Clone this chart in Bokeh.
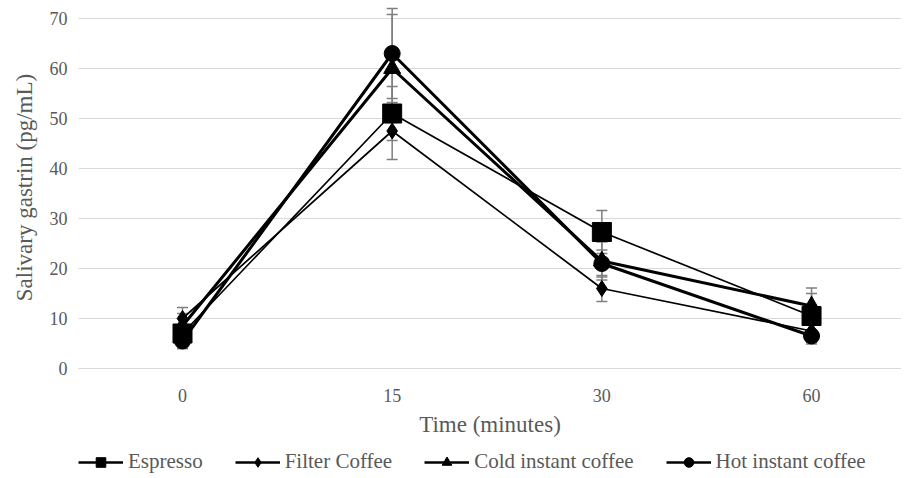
from bokeh.plotting import figure
from bokeh.layouts import column
from bokeh.models import ColumnDataSource, Range1d, Whisker, TeeHead, Legend, LegendItem, FixedTicker
from bokeh.embed import file_html
from bokeh.resources import INLINE

times = ["0", "15", "30", "60"]
espresso = [7.0, 51.0, 27.3, 10.5]
espresso_err = [3.0, 5.4, 4.3, 5.6]
filter_coffee = [10.0, 47.5, 16.0, 7.5]
filter_err = [2.2, 5.7, 2.6, 1.5]
cold_instant = [8.5, 60.0, 21.5, 12.5]
cold_err = [2.5, 10.8, 3.8, 2.5]
hot_instant = [5.5, 63.0, 21.0, 6.5]
hot_err = [1.5, 9.0, 2.7, 1.2]
names = ["Espresso", "Filter Coffee", "Cold instant coffee", "Hot instant coffee"]

FONT = "Liberation Serif"
xs = list(range(len(times)))

p = figure(width=901, height=440, output_backend="svg", toolbar_location=None,
           x_range=Range1d(-0.496, 3.429), y_range=Range1d(0, 72.4),
           min_border_left=78, min_border_right=0, min_border_top=6, min_border_bottom=72)
p.outline_line_color = None
p.background_fill_color = "white"
p.border_fill_color = "white"

styles = [("square", 19, 1.7), ("diamond", 16, 1.7), ("triangle", 17, 3.0), ("circle", 16, 3.0)]
vals_all = [espresso, filter_coffee, cold_instant, hot_instant]
errs_all = [espresso_err, filter_err, cold_err, hot_err]

for vals, errs, (marker, size, lw) in zip(vals_all, errs_all, styles):
    src = ColumnDataSource(dict(x=xs, y=vals,
                                lo=[v - e for v, e in zip(vals, errs)],
                                hi=[v + e for v, e in zip(vals, errs)]))
    w = Whisker(source=src, base="x", lower="lo", upper="hi",
                line_color="#7f7f7f", line_width=1.5,
                upper_head=TeeHead(size=11, line_color="#7f7f7f", line_width=1.5),
                lower_head=TeeHead(size=11, line_color="#7f7f7f", line_width=1.5))
    p.add_layout(w)
    p.line("x", "y", source=src, line_color="black", line_width=lw)
    p.scatter("x", "y", source=src, marker=marker, size=size,
              fill_color="black", line_color="black")

p.xgrid.grid_line_color = None
p.ygrid.grid_line_color = "#d9d9d9"
p.ygrid.grid_line_width = 1

p.xaxis.ticker = FixedTicker(ticks=xs)
p.xaxis.major_label_overrides = {i: t for i, t in zip(xs, times)}
p.yaxis.ticker = FixedTicker(ticks=list(range(0, 71, 10)))

for ax in (p.xaxis, p.yaxis):
    ax.major_tick_line_color = None
    ax.minor_tick_line_color = None
    ax.major_label_text_font = FONT
    ax.major_label_text_font_size = "18px"
    ax.major_label_text_color = "#595959"
    ax.axis_label_text_font = FONT
    ax.axis_label_text_font_style = "normal"
    ax.axis_label_text_color = "#595959"
    ax.axis_label_text_font_size = "23px"

p.xaxis.axis_line_color = "#d9d9d9"
p.yaxis.axis_line_color = None
p.xaxis.major_label_standoff = 14
p.yaxis.major_label_standoff = 5
p.xaxis.axis_label = "Time (minutes)"
p.yaxis.axis_label = "Salivary gastrin (pg/mL)"
p.xaxis.axis_label_standoff = 7
p.yaxis.axis_label_standoff = 10

# legend strip below the chart (its sample glyphs sit outside the visible range)
lg = figure(width=901, height=34, output_backend="svg", toolbar_location=None,
            x_range=Range1d(0, 1), y_range=Range1d(0, 1),
            min_border_left=0, min_border_right=0, min_border_top=0, min_border_bottom=0)
lg.axis.visible = False
lg.grid.visible = False
lg.outline_line_color = None
items = []
for name, (marker, size, lw) in zip(names, styles):
    hidden = ColumnDataSource(dict(x=[-10, -9], y=[-10, -10]))
    l = lg.line("x", "y", source=hidden, line_color="black", line_width=2.5)
    s = lg.scatter("x", "y", source=hidden, marker=marker, size=size,
                   fill_color="black", line_color="black")
    items.append(LegendItem(label=name, renderers=[l, s]))

legend = Legend(items=items, orientation="horizontal", location=(0, 0),
                label_text_font=FONT, label_text_font_size="21px",
                label_text_color="#595959", glyph_width=45, glyph_height=24,
                label_standoff=5, spacing=32, padding=0, margin=0,
                border_line_color=None, background_fill_alpha=0)
lg.add_layout(legend)

layout = column(p, lg, spacing=0)
open("out.html", "w").write(file_html(layout, INLINE))
